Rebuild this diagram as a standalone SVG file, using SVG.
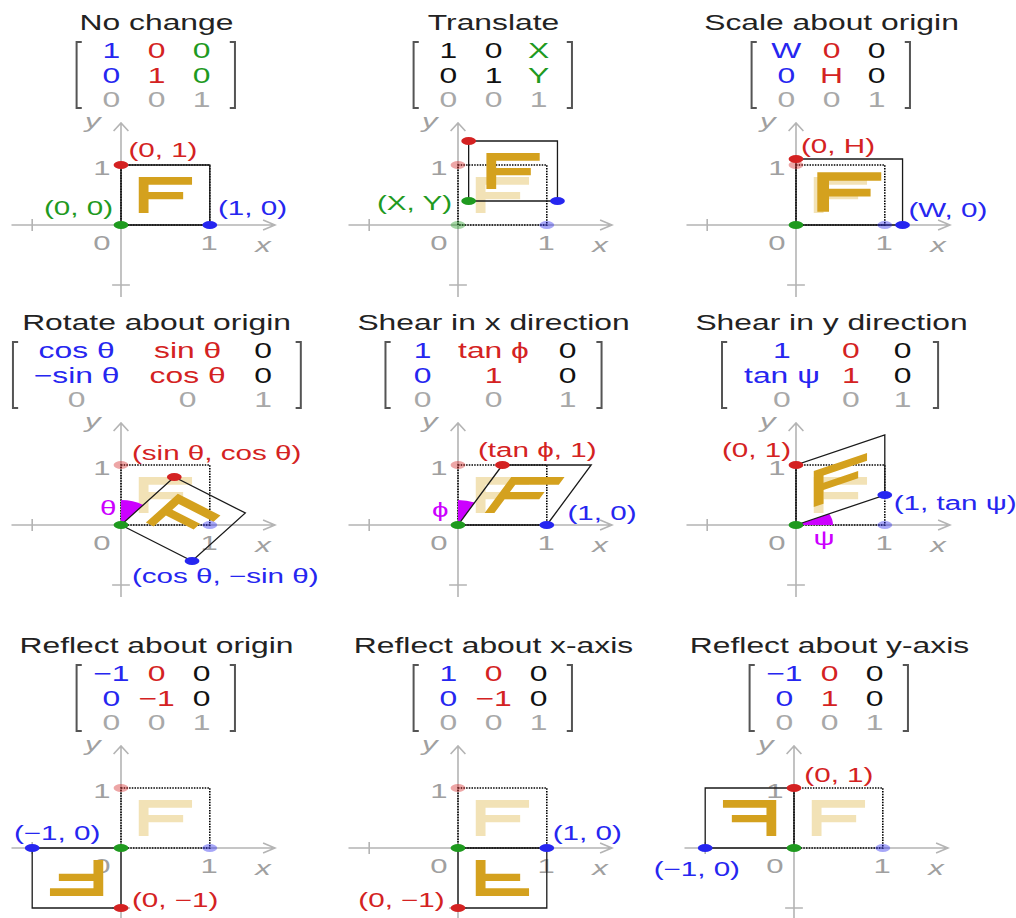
<svg xmlns="http://www.w3.org/2000/svg" width="1016" height="918" viewBox="0 0 1016 918">
<style>
text{font-family:"Liberation Sans",Arial,sans-serif}
.t{font-size:21.5px;fill:#222;text-anchor:middle}
.m{font-size:21.5px;text-anchor:middle}
.lb{font-size:20px}
.al{font-size:21px;fill:#a0a0a0;text-anchor:middle}
.it{font-style:italic}
.e{text-anchor:end}
.c{text-anchor:middle}
.r{fill:#d42222}.b{fill:#2626f0}.g{fill:#1f9a1f}.k{fill:#111}.gr{fill:#a8a8a8}.mg{fill:#cc00ff}
.ax{fill:none;stroke:#b4b4b4;stroke-width:1.6;vector-effect:non-scaling-stroke}
.br{fill:none;stroke:#555;stroke-width:2;vector-effect:non-scaling-stroke}
.dt{fill:none;stroke:#000;stroke-width:1.6;stroke-dasharray:1.5 1.2;vector-effect:non-scaling-stroke}
.sh{fill:none;stroke:#1a1a1a;stroke-width:1.3;vector-effect:non-scaling-stroke}
.fg{fill:#d4a11e}.ff{fill:#f2e2b6}
.fade{opacity:.4}
</style>
<defs>
  <!-- coordinate axes shared by every panel (panel units: 60 per unit) -->
  <g id="axes">
    <path class="ax" d="M-74,0H104M96,-5L104,0L96,5M0,-102V72M-5,-94L0,-102L5,-94M-60,-6V6M-6,60H6"/>
    <text class="al" x="-13" y="25">0</text>
    <text class="al" x="59.5" y="25">1</text>
    <text class="al it" x="96" y="27">x</text>
    <text class="al it" x="-19" y="-97">y</text>
    <text class="al" x="-13" y="-50">1</text>
  </g>
  <rect id="sq" class="dt" x="0" y="-60" width="60" height="60"/>
  <path id="F" d="M.2,.2H.31V.43H.7V.55H.31V.67H.8V.8H.2Z"/>
  <ellipse id="d" rx="5" ry="4"/>
</defs>

<!-- identity -->
<g id="identity" transform="translate(121,225) scale(1.48,1)">
  <text class="t" x="24" y="-195">No change</text>
  <path class="br" d="M-26.5,-183H-30V-117H-26.5M73.5,-183H77V-117H73.5"/>
  <text class="m b" x="-6.5" y="-167">1</text><text class="m r" x="24" y="-167">0</text><text class="m g" x="54.5" y="-167">0</text>
  <text class="m b" x="-6.5" y="-142">0</text><text class="m r" x="24" y="-142">1</text><text class="m g" x="54.5" y="-142">0</text>
  <text class="m gr" x="-6.5" y="-118">0</text><text class="m gr" x="24" y="-118">0</text><text class="m gr" x="54.5" y="-118">1</text>
  <use href="#axes"/>
  <use href="#sq"/>
  <use href="#F" class="fg" transform="scale(60,-60)"/>
  <rect class="sh" x="0" y="-60" width="60" height="60"/>
  <use href="#d" class="g"/><use href="#d" class="b" x="60"/><use href="#d" class="r" y="-60"/>
  <text class="lb r" x="5" y="-68">(0, 1)</text>
  <text class="lb g e" x="-5.4" y="-10">(0, 0)</text>
  <text class="lb b" x="65.5" y="-10">(1, 0)</text>
</g>

<!-- translation -->
<g id="translate" transform="translate(458,225) scale(1.48,1)">
  <text class="t" x="24" y="-195">Translate</text>
  <path class="br" d="M-26.5,-183H-30V-117H-26.5M73.5,-183H77V-117H73.5"/>
  <text class="m k" x="-6.5" y="-167">1</text><text class="m k" x="24" y="-167">0</text><text class="m g" x="54.5" y="-167">X</text>
  <text class="m k" x="-6.5" y="-142">0</text><text class="m k" x="24" y="-142">1</text><text class="m g" x="54.5" y="-142">Y</text>
  <text class="m gr" x="-6.5" y="-118">0</text><text class="m gr" x="24" y="-118">0</text><text class="m gr" x="54.5" y="-118">1</text>
  <use href="#axes"/>
  <use href="#F" class="ff" transform="scale(60,-60)"/>
  <use href="#sq"/>
  <use href="#F" class="fg" transform="translate(7.2,-24) scale(60,-60)"/>
  <rect class="sh" x="7.2" y="-84" width="60" height="60"/>
  <g class="fade"><use href="#d" class="g"/><use href="#d" class="b" x="60"/><use href="#d" class="r" y="-60"/></g>
  <use href="#d" class="g" x="7.2" y="-24"/><use href="#d" class="b" x="67.2" y="-24"/><use href="#d" class="r" x="7.2" y="-84"/>
  <text class="lb g e" x="-4" y="-15">(X, Y)</text>
</g>

<!-- scaling -->
<g id="scale" transform="translate(796,225) scale(1.48,1)">
  <text class="t" x="24" y="-195">Scale about origin</text>
  <path class="br" d="M-26.5,-183H-30V-117H-26.5M73.5,-183H77V-117H73.5"/>
  <text class="m b" x="-6.5" y="-167">W</text><text class="m r" x="24" y="-167">0</text><text class="m k" x="54.5" y="-167">0</text>
  <text class="m b" x="-6.5" y="-142">0</text><text class="m r" x="24" y="-142">H</text><text class="m k" x="54.5" y="-142">0</text>
  <text class="m gr" x="-6.5" y="-118">0</text><text class="m gr" x="24" y="-118">0</text><text class="m gr" x="54.5" y="-118">1</text>
  <use href="#axes"/>
  <use href="#F" class="ff" transform="scale(60,-60)"/>
  <use href="#sq"/>
  <use href="#F" class="fg" transform="scale(72,-66)"/>
  <rect class="sh" x="0" y="-66" width="72" height="66"/>
  <g class="fade"><use href="#d" class="b" x="60"/><use href="#d" class="r" y="-60"/></g>
  <use href="#d" class="g"/><use href="#d" class="b" x="72"/><use href="#d" class="r" y="-66"/>
  <text class="lb r" x="3.4" y="-72">(0, H)</text>
  <text class="lb b" x="76" y="-8">(W, 0)</text>
</g>

<!-- rotation -->
<g id="rotate" transform="translate(121,525) scale(1.48,1)">
  <text class="t" x="24" y="-195">Rotate about origin</text>
  <path class="br" d="M-69.5,-183H-73V-117H-69.5M118,-183H121.5V-117H118"/>
  <text class="m b" x="-30" y="-167">cos θ</text><text class="m r" x="45" y="-167">sin θ</text><text class="m k" x="96" y="-167">0</text>
  <text class="m b" x="-30" y="-142">−sin θ</text><text class="m r" x="45" y="-142">cos θ</text><text class="m k" x="96" y="-142">0</text>
  <text class="m gr" x="-30" y="-118">0</text><text class="m gr" x="45" y="-118">0</text><text class="m gr" x="96" y="-118">1</text>
  <use href="#axes"/>
  <use href="#F" class="ff" transform="scale(60,-60)"/>
  <use href="#sq"/>
  <path class="mg" d="M0,0V-25A25,25 0 0 1 15,-20Z"/>
  <use href="#F" class="fg" transform="scale(60,-60) matrix(0.8,-0.6,0.6,0.8,0,0)"/>
  <polygon class="sh" points="0,0 48,36 84,-12 36,-48"/>
  <g class="fade"><use href="#d" class="b" x="60"/><use href="#d" class="r" y="-60"/></g>
  <use href="#d" class="g"/><use href="#d" class="b" x="48" y="36"/><use href="#d" class="r" x="36" y="-48"/>
  <text class="lb r" x="7.4" y="-65">(sin θ, cos θ)</text>
  <text class="lb b" x="7.4" y="58">(cos θ, −sin θ)</text>
  <text class="lb mg e" x="-3" y="-10">θ</text>
</g>

<!-- horizontal shear -->
<g id="shear-x" transform="translate(458,525) scale(1.48,1)">
  <text class="t" x="24" y="-195">Shear in x direction</text>
  <path class="br" d="M-45.5,-183H-49V-117H-45.5M93.5,-183H97V-117H93.5"/>
  <text class="m b" x="-24" y="-167">1</text><text class="m r" x="24" y="-167">tan ϕ</text><text class="m k" x="74" y="-167">0</text>
  <text class="m b" x="-24" y="-142">0</text><text class="m r" x="24" y="-142">1</text><text class="m k" x="74" y="-142">0</text>
  <text class="m gr" x="-24" y="-118">0</text><text class="m gr" x="24" y="-118">0</text><text class="m gr" x="74" y="-118">1</text>
  <use href="#axes"/>
  <use href="#F" class="ff" transform="scale(60,-60)"/>
  <use href="#sq"/>
  <path class="mg" d="M0,0V-25A25,25 0 0 1 11.2,-22.4Z"/>
  <use href="#F" class="fg" transform="scale(60,-60) matrix(1,0,0.5,1,0,0)"/>
  <polygon class="sh" points="0,0 60,0 90,-60 30,-60"/>
  <g class="fade"><use href="#d" class="r" y="-60"/></g>
  <use href="#d" class="g"/><use href="#d" class="b" x="60"/><use href="#d" class="r" x="30" y="-60"/>
  <text class="lb r" x="13.5" y="-68">(tan ϕ, 1)</text>
  <text class="lb b" x="74" y="-5">(1, 0)</text>
  <text class="lb mg c" x="-12" y="-8">ϕ</text>
</g>

<!-- vertical shear -->
<g id="shear-y" transform="translate(796,525) scale(1.48,1)">
  <text class="t" x="24" y="-195">Shear in y direction</text>
  <path class="br" d="M-46.5,-183H-50V-117H-46.5M92.5,-183H96V-117H92.5"/>
  <text class="m b" x="-9.5" y="-167">1</text><text class="m r" x="37" y="-167">0</text><text class="m k" x="72" y="-167">0</text>
  <text class="m b" x="-9.5" y="-142">tan ψ</text><text class="m r" x="37" y="-142">1</text><text class="m k" x="72" y="-142">0</text>
  <text class="m gr" x="-9.5" y="-118">0</text><text class="m gr" x="37" y="-118">0</text><text class="m gr" x="72" y="-118">1</text>
  <use href="#axes"/>
  <use href="#F" class="ff" transform="scale(60,-60)"/>
  <use href="#sq"/>
  <path class="mg" d="M0,0H25A25,25 0 0 0 22.4,-11.2Z"/>
  <use href="#F" class="fg" transform="scale(60,-60) matrix(1,0.5,0,1,0,0)"/>
  <polygon class="sh" points="0,0 60,-30 60,-90 0,-60"/>
  <g class="fade"><use href="#d" class="b" x="60"/></g>
  <use href="#d" class="g"/><use href="#d" class="b" x="60" y="-30"/><use href="#d" class="r" y="-60"/>
  <text class="lb r e" x="-3.4" y="-68">(0, 1)</text>
  <text class="lb b" x="66" y="-15">(1, tan ψ)</text>
  <text class="lb mg c" x="19" y="20">ψ</text>
</g>

<!-- point reflection -->
<g id="reflect-origin" transform="translate(121,848) scale(1.48,1)">
  <text class="t" x="24" y="-195">Reflect about origin</text>
  <path class="br" d="M-26.5,-183H-30V-117H-26.5M73.5,-183H77V-117H73.5"/>
  <text class="m b" x="-6.5" y="-167">−1</text><text class="m r" x="24" y="-167">0</text><text class="m k" x="54.5" y="-167">0</text>
  <text class="m b" x="-6.5" y="-142">0</text><text class="m r" x="24" y="-142">−1</text><text class="m k" x="54.5" y="-142">0</text>
  <text class="m gr" x="-6.5" y="-118">0</text><text class="m gr" x="24" y="-118">0</text><text class="m gr" x="54.5" y="-118">1</text>
  <use href="#axes"/>
  <use href="#F" class="ff" transform="scale(60,-60)"/>
  <use href="#sq"/>
  <use href="#F" class="fg" transform="scale(-60,60)"/>
  <rect class="sh" x="-60" y="0" width="60" height="60"/>
  <g class="fade"><use href="#d" class="b" x="60"/><use href="#d" class="r" y="-60"/></g>
  <use href="#d" class="g"/><use href="#d" class="b" x="-60"/><use href="#d" class="r" y="60"/>
  <text class="lb b e" x="-14" y="-8">(−1, 0)</text>
  <text class="lb r" x="7.4" y="59">(0, −1)</text>
</g>

<!-- reflection in the x-axis -->
<g id="reflect-x" transform="translate(458,848) scale(1.48,1)">
  <text class="t" x="24" y="-195">Reflect about x-axis</text>
  <path class="br" d="M-26.5,-183H-30V-117H-26.5M73.5,-183H77V-117H73.5"/>
  <text class="m b" x="-6.5" y="-167">1</text><text class="m r" x="24" y="-167">0</text><text class="m k" x="54.5" y="-167">0</text>
  <text class="m b" x="-6.5" y="-142">0</text><text class="m r" x="24" y="-142">−1</text><text class="m k" x="54.5" y="-142">0</text>
  <text class="m gr" x="-6.5" y="-118">0</text><text class="m gr" x="24" y="-118">0</text><text class="m gr" x="54.5" y="-118">1</text>
  <use href="#axes"/>
  <use href="#F" class="ff" transform="scale(60,-60)"/>
  <use href="#sq"/>
  <use href="#F" class="fg" transform="scale(60,60)"/>
  <rect class="sh" x="0" y="0" width="60" height="60"/>
  <g class="fade"><use href="#d" class="r" y="-60"/></g>
  <use href="#d" class="g"/><use href="#d" class="b" x="60"/><use href="#d" class="r" y="60"/>
  <text class="lb b" x="64" y="-8">(1, 0)</text>
  <text class="lb r e" x="-9" y="59">(0, −1)</text>
</g>

<!-- reflection in the y-axis -->
<g id="reflect-y" transform="translate(794,848) scale(1.48,1)">
  <text class="t" x="24" y="-195">Reflect about y-axis</text>
  <path class="br" d="M-26.5,-183H-30V-117H-26.5M73.5,-183H77V-117H73.5"/>
  <text class="m b" x="-6.5" y="-167">−1</text><text class="m r" x="24" y="-167">0</text><text class="m k" x="54.5" y="-167">0</text>
  <text class="m b" x="-6.5" y="-142">0</text><text class="m r" x="24" y="-142">1</text><text class="m k" x="54.5" y="-142">0</text>
  <text class="m gr" x="-6.5" y="-118">0</text><text class="m gr" x="24" y="-118">0</text><text class="m gr" x="54.5" y="-118">1</text>
  <use href="#axes"/>
  <use href="#F" class="ff" transform="scale(60,-60)"/>
  <use href="#sq"/>
  <use href="#F" class="fg" transform="scale(-60,-60)"/>
  <rect class="sh" x="-60" y="-60" width="60" height="60"/>
  <g class="fade"><use href="#d" class="b" x="60"/></g>
  <use href="#d" class="g"/><use href="#d" class="b" x="-60"/><use href="#d" class="r" y="-60"/>
  <text class="lb r" x="7" y="-66">(0, 1)</text>
  <text class="lb b e" x="-36.5" y="28">(−1, 0)</text>
</g>
</svg>
